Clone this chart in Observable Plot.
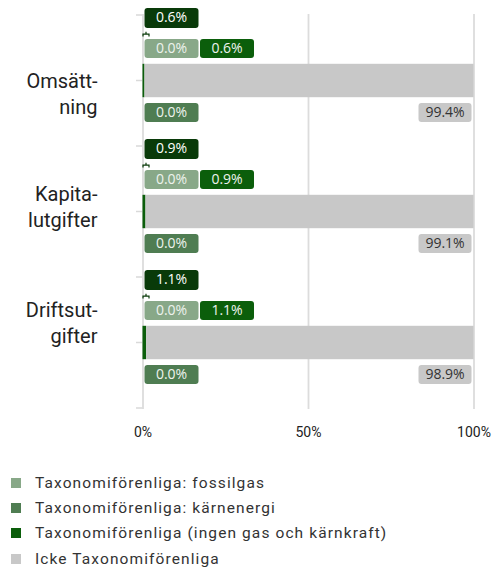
<!DOCTYPE html>
<html>
<head>
<meta charset="utf-8">
<script src="https://cdn.jsdelivr.net/npm/d3@7"></script>
<script src="https://cdn.jsdelivr.net/npm/@observablehq/plot@0.6"></script>
<style>
  html, body { margin: 0; padding: 0; background: #fff; }
  #chart svg { display: block; }
  .legend { padding-top: 20px; font-family: Roboto, sans-serif; font-size: 15.5px; letter-spacing: 1.1px; color: #333; }
  .legend .row { display: flex; align-items: center; height: 25.3px; }
  .legend .sw { width: 10px; height: 10px; margin-left: 11px; margin-right: 14px; flex: none; }
</style>
</head>
<body>
<div id="chart"></div>
<script>
// ---- data ----
const categories = ["Omsättning", "Kapitalutgifter", "Driftsutgifter"];
const categoryLabels = ["Omsätt-\nning", "Kapita-\nlutgifter", "Driftsut-\ngifter"];
const fossilgas = [0.0, 0.0, 0.0];
const karnenergi = [0.0, 0.0, 0.0];
const ingenGas = [0.6, 0.9, 1.1];
const ickeTax = [99.4, 99.1, 98.9];
const totalAligned = [0.6, 0.9, 1.1];
const seriesNames = [
  "Taxonomiförenliga: fossilgas",
  "Taxonomiförenliga: kärnenergi",
  "Taxonomiförenliga (ingen gas och kärnkraft)",
  "Icke Taxonomiförenliga"
];
const xTicks = [0, 50, 100];

// ---- styles ----
const colors = ["#88a888", "#4f7d52", "#0b5e0b", "#c8c8c8"];
const topColor = "#093a09";
const labelBaseline = [3, -14.5, -30]; // per-label vertical placement (px)

// ---- tables built from arrays ----
const seriesValues = [fossilgas, karnenergi, ingenGas, ickeTax];
const stackRows = [];
categories.forEach((c, i) => seriesNames.forEach((s, j) =>
  stackRows.push({category: c, series: s, value: seriesValues[j][i]})));
const rows = categories.map((c, i) => ({
  category: c, label: categoryLabels[i],
  fossil: fossilgas[i], karn: karnenergi[i], ingen: ingenGas[i], icke: ickeTax[i],
  total: totalAligned[i],
  end: fossilgas[i] + karnenergi[i] + ingenGas[i] + ickeTax[i]
}));
const fmt = v => v.toFixed(1) + "%";

const badge = (w, h, r) => ({
  draw(ctx) {
    const x0 = -w / 2, y0 = -h / 2, x1 = w / 2, y1 = h / 2;
    ctx.moveTo(x0 + r, y0); ctx.lineTo(x1 - r, y0); ctx.arcTo(x1, y0, x1, y0 + r, r);
    ctx.lineTo(x1, y1 - r); ctx.arcTo(x1, y1, x1 - r, y1, r);
    ctx.lineTo(x0 + r, y1); ctx.arcTo(x0, y1, x0, y1 - r, r);
    ctx.lineTo(x0, y0 + r); ctx.arcTo(x0, y0, x0 + r, y0, r); ctx.closePath();
  }
});
const bracket = {
  draw(ctx) {
    ctx.moveTo(-3, 2.3); ctx.lineTo(-3, 0); ctx.lineTo(3, 0); ctx.lineTo(3, 2.3);
    ctx.moveTo(0, 0); ctx.lineTo(0, -2.5);
  }
};

const badgeFont = {fontFamily: "'Open Sans', sans-serif", fontSize: 14};

function badgeMarks(data, {x, text, dx, dy, fill, textFill, w = 54, h = 19}) {
  return [
    Plot.dot(data, {x, y: "category", dx, dy, r: 5, symbol: badge(w, h, 3), fill, stroke: "none"}),
    Plot.text(data, {x, y: "category", dx, dy, text, fill: textFill, ...badgeFont})
  ];
}

// y axis small ticks at band edges and centers (derived from scales)
function yTicks(index, scales) {
  const {x, y} = scales;
  const g = d3.create("svg:g").attr("stroke", "#d9d9d9").attr("stroke-width", 1.5);
  const bw = y.bandwidth ? y.bandwidth() : 0;
  const x0 = x(0);
  const ys = new Set();
  categories.forEach(c => { const t = y(c); ys.add(t); ys.add(t + bw / 2); ys.add(t + bw); });
  for (const v of ys) g.append("line").attr("x1", x0 - 6.5).attr("x2", x0).attr("y1", v).attr("y2", v);
  return g.node();
}

const plot = Plot.plot({
  width: 501,
  height: 450,
  marginLeft: 142.5,
  marginRight: 27.5,
  marginTop: 14,
  marginBottom: 41,
  style: {fontFamily: "Roboto, sans-serif", background: "#fff"},
  x: {domain: [0, 100]},
  y: {domain: categories, padding: 0, axis: null},
  color: {domain: seriesNames, range: colors},
  marks: [
    Plot.ruleX(xTicks, {stroke: "#dcdcdc", strokeWidth: 1.8}),
    yTicks,
    Plot.barX(stackRows, Plot.stackX({
      x: "value", y: "category", fill: "series", order: seriesNames,
      insetTop: 48.8, insetBottom: 48.8
    })),
    Plot.axisX(xTicks, {
      tickSize: 0, tickPadding: 18, tickFormat: d => d + "%", label: null,
      fontSize: 14, fill: "#222", style: "letter-spacing:0.6px"
    }),
    // category labels
    ...categories.map((c, i) => Plot.text(rows.filter(r => r.category === c), {
      x: 0, y: "category", text: "label", textAnchor: "end", lineAnchor: "top",
      dx: -45.5, dy: labelBaseline[i] - 14.2, lineHeight: 1.28,
      fontSize: 20, fill: "#222"
    })),
    // top badge: total aligned
    ...badgeMarks(rows, {x: 0, text: d => fmt(d.total), dx: 28.5, dy: -63, fill: topColor, textFill: "#fff", h: 20}),
    Plot.dot(rows, {x: 0, y: "category", dx: 3, dy: -46.8, r: 5, symbol: bracket, fill: "none", stroke: topColor, strokeWidth: 1.2}),
    // middle row: fossilgas + ingen gas
    ...badgeMarks(rows, {x: 0, text: d => fmt(d.fossil), dx: 28.5, dy: -32.5, fill: colors[0], textFill: "#eef3ee"}),
    ...badgeMarks(rows, {x: 0, text: d => fmt(d.ingen), dx: 84, dy: -32.5, fill: colors[2], textFill: "#eef3ee"}),
    // bottom row: kärnenergi + icke
    ...badgeMarks(rows, {x: 0, text: d => fmt(d.karn), dx: 28.5, dy: 31.5, fill: colors[1], textFill: "#eef3ee"}),
    ...badgeMarks(rows, {x: "end", text: d => fmt(d.icke), dx: -29, dy: 31.5, fill: colors[3], textFill: "#333", w: 53})
  ]
});

const chart = document.getElementById("chart");
chart.appendChild(plot);

const legend = document.createElement("div");
legend.className = "legend";
seriesNames.forEach((s, i) => {
  const row = document.createElement("div");
  row.className = "row";
  const sw = document.createElement("span");
  sw.className = "sw";
  sw.style.background = colors[i];
  const t = document.createElement("span");
  t.textContent = s;
  row.appendChild(sw); row.appendChild(t);
  legend.appendChild(row);
});
chart.appendChild(legend);
</script>
</body>
</html>
